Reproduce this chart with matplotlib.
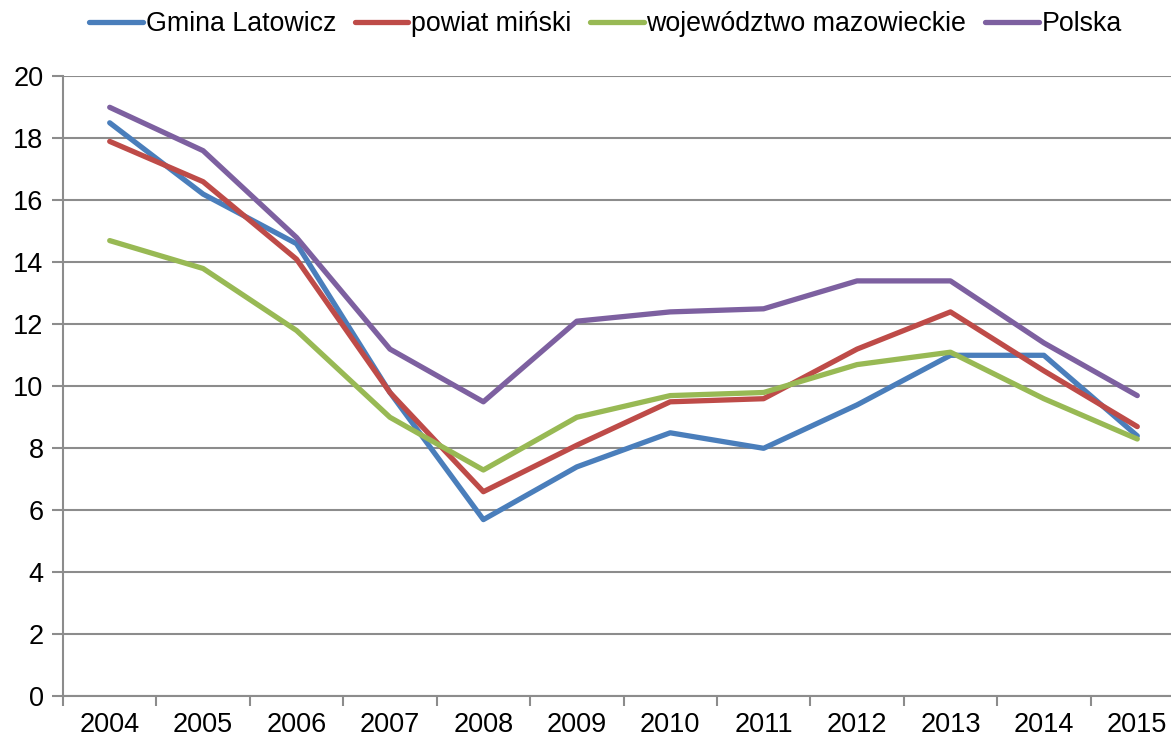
import matplotlib
matplotlib.use("Agg")
import matplotlib.pyplot as plt
from matplotlib.ticker import FixedLocator

years = ["2004", "2005", "2006", "2007", "2008", "2009", "2010", "2011", "2012", "2013", "2014", "2015"]
gmina = [18.5, 16.2, 14.6, 9.8, 5.7, 7.4, 8.5, 8.0, 9.4, 11.0, 11.0, 8.4]
powiat = [17.9, 16.6, 14.1, 9.8, 6.6, 8.1, 9.5, 9.6, 11.2, 12.4, 10.5, 8.7]
wojew = [14.7, 13.8, 11.8, 9.0, 7.3, 9.0, 9.7, 9.8, 10.7, 11.1, 9.6, 8.3]
polska = [19.0, 17.6, 14.8, 11.2, 9.5, 12.1, 12.4, 12.5, 13.4, 13.4, 11.4, 9.7]

series = [
    ("Gmina Latowicz", gmina, "#4A7EBB"),
    ("powiat miński", powiat, "#BE4B48"),
    ("województwo mazowieckie", wojew, "#98B954"),
    ("Polska", polska, "#7D60A0"),
]

plt.rcParams['font.family'] = ['Liberation Sans', 'DejaVu Sans']

fig = plt.figure(figsize=(11.71, 7.38), dpi=100)
ax = fig.add_axes([63/1171, 1-696.3/738, 1121/1171, (696.3-76.3)/738])

x = list(range(len(years)))
for name, vals, col in series:
    ax.plot(x, vals, color=col, lw=3.8, label=name, solid_capstyle='round', solid_joinstyle='round', zorder=3)

ax.set_xlim(-0.5, len(years) - 0.5)
ax.set_ylim(0, 20)
ax.set_yticks(range(0, 21, 2))
ax.yaxis.grid(True, color="#8C8C8C", lw=1.5)
ax.set_axisbelow(True)

ax.set_xticks(x)
ax.set_xticklabels(years)
ax.xaxis.set_minor_locator(FixedLocator([i - 0.5 for i in range(len(years) + 1)]))
ax.tick_params(axis='x', which='major', length=0, labelsize=19.5, pad=11)
ax.tick_params(axis='x', which='minor', length=7, width=1.5, color="#8C8C8C")
ax.tick_params(axis='y', length=8, width=1.5, color="#8C8C8C", labelsize=19.5, pad=6)

for s in ["top", "right"]:
    ax.spines[s].set_visible(False)
for s in ["left", "bottom"]:
    ax.spines[s].set_color("#8C8C8C")
    ax.spines[s].set_linewidth(1.5)

leg = fig.legend(loc="center", bbox_to_anchor=(0.517, 1-24/738), ncol=4, frameon=False,
                 fontsize=19.3, handlelength=2.0, handletextpad=0.1, columnspacing=0.7)

fig.savefig("out.png", dpi=100)
